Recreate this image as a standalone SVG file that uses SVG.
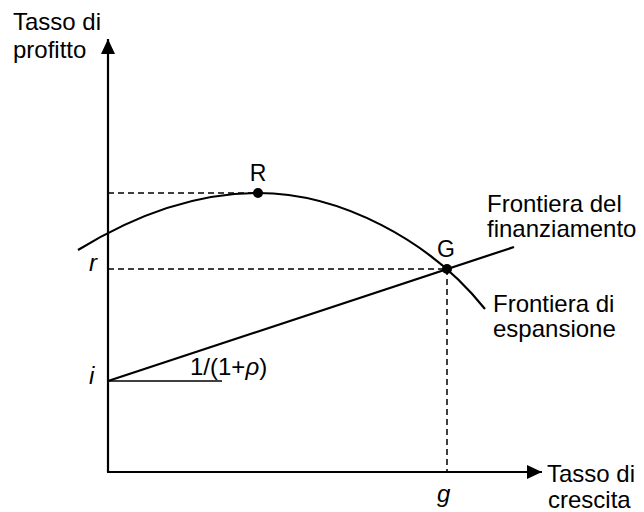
<svg xmlns="http://www.w3.org/2000/svg" width="644" height="512" viewBox="0 0 644 512">
<style>
text{font-family:"Liberation Sans",Arial,sans-serif;font-size:24px;fill:#000}
.it{font-style:italic}
.sm{font-size:23px}
.ax{stroke:#000;stroke-width:2.2;fill:none}
.cv{stroke:#000;stroke-width:2.2;fill:none}
.ds{stroke:#000;stroke-width:1.5;stroke-dasharray:6 4;fill:none}
.thin{stroke:#000;stroke-width:1.3;fill:none}
</style>
<defs>
<marker id="ah" markerWidth="16" markerHeight="14" refX="15" refY="7" orient="auto" markerUnits="userSpaceOnUse">
<path d="M0,0 L15,7 L0,14 Z" fill="#000"/>
</marker>
</defs>
<g id="connectors">
<line class="ax" x1="108" y1="472" x2="108" y2="39" marker-end="url(#ah)"/>
<line class="ax" x1="107" y1="472" x2="542" y2="472" marker-end="url(#ah)"/>
<line class="ds" x1="108" y1="193" x2="258" y2="193"/>
<line class="ds" x1="108" y1="269" x2="447" y2="269"/>
<line class="ds" x1="447" y1="269" x2="447" y2="472"/>
<line class="thin" x1="108" y1="381" x2="222" y2="381"/>
</g>
<g id="frontiera-espansione">
<path class="cv" d="M78,250 Q171,193 258,193 C340,193 430,240 485,309"/>
</g>
<g id="frontiera-finanziamento">
<line class="cv" x1="108" y1="381" x2="514" y2="247"/>
</g>
<g id="R">
<circle cx="258" cy="193" r="5"/>
<text class="sm" x="258" y="181" text-anchor="middle">R</text>
</g>
<g id="G">
<circle cx="447" cy="269" r="5"/>
<text class="sm" x="446" y="257" text-anchor="middle">G</text>
</g>
<g id="labels">
<text x="13" y="30">Tasso di</text>
<text x="13" y="58">profitto</text>
<text x="547" y="482">Tasso di</text>
<text x="548" y="508">crescita</text>
<text x="487" y="212">Frontiera del</text>
<text x="487" y="237">finanziamento</text>
<text x="493" y="312">Frontiera di</text>
<text x="493" y="337">espansione</text>
<text class="it" x="89" y="271">r</text>
<text class="it" x="89" y="384">i</text>
<text class="it" x="437" y="502">g</text>
<text x="190" y="375">1/(1+<tspan class="it">ρ</tspan>)</text>
</g>
</svg>
